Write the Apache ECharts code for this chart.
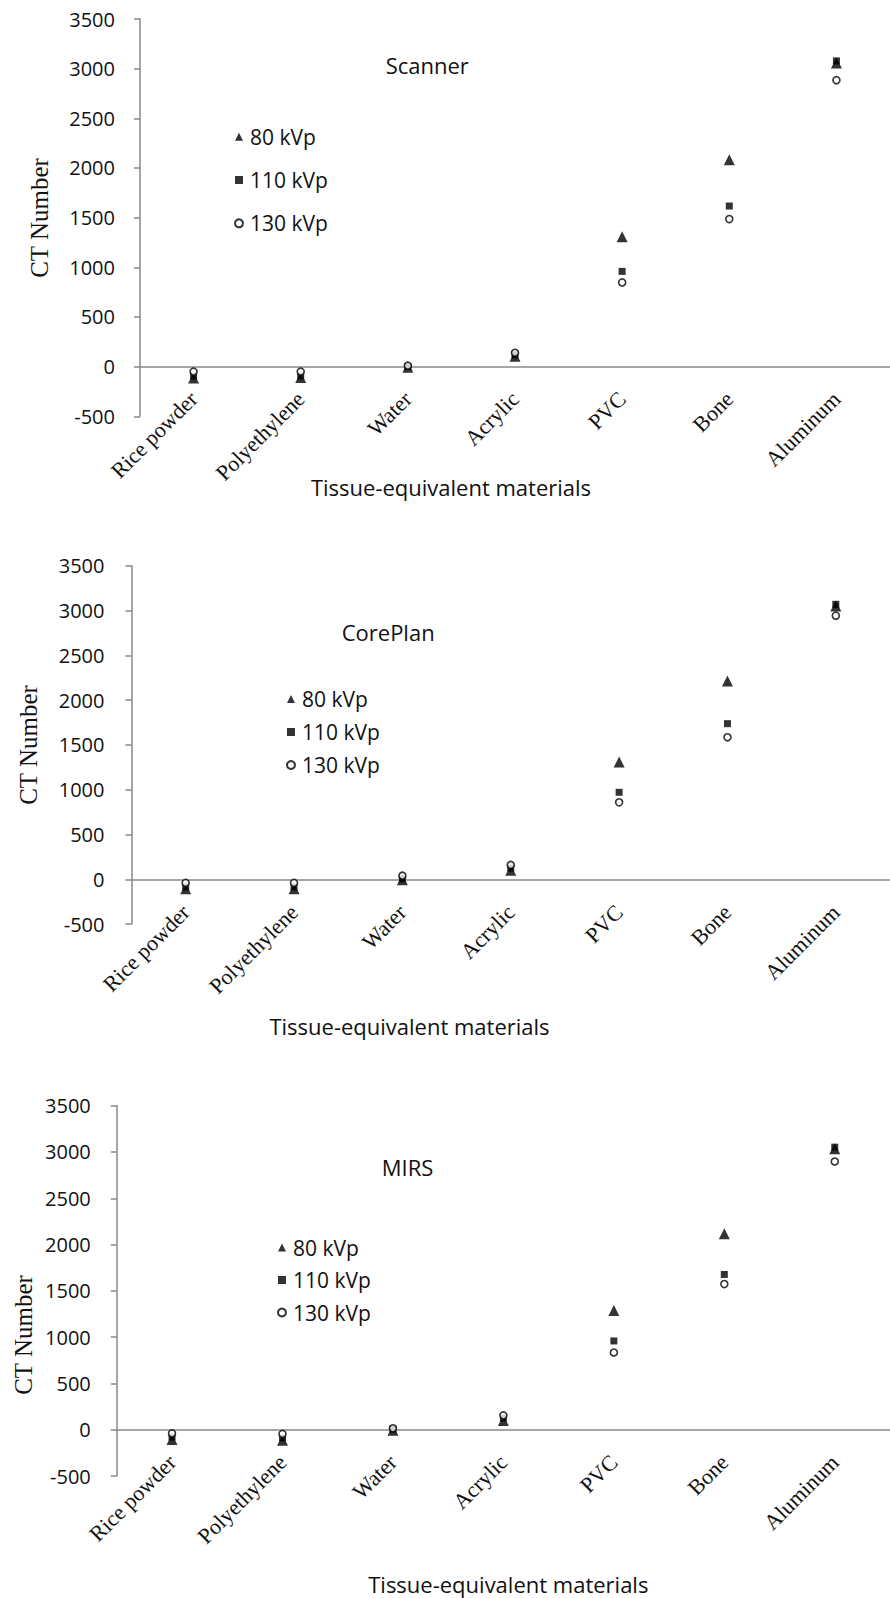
<!DOCTYPE html>
<html><head><meta charset="utf-8">
<script src="https://cdn.jsdelivr.net/npm/echarts@6/dist/echarts.min.js"></script>
<style>html,body{margin:0;padding:0;background:#fff}#c{width:890px;height:1598px}</style>
</head><body><div id="c"></div>
<script>
// ---- data ----
const categories = ['Rice powder', 'Polyethylene', 'Water', 'Acrylic', 'PVC', 'Bone', 'Aluminum'];
const seriesNames = ['80 kVp', '110 kVp', '130 kVp'];
const panelTitles = ['Scanner', 'CorePlan', 'MIRS'];
const xAxisName = 'Tissue-equivalent materials';
const yAxisName = 'CT Number';

const scanner80  = [-115, -110, -5, 105, 1308, 2083, 3058];
const scanner110 = [-95, -95, 0, 118, 959, 1617, 3078];
const scanner130 = [-50, -50, 10, 140, 848, 1486, 2884];

const corePlan80  = [-105, -105, -5, 100, 1309, 2213, 3050];
const corePlan110 = [-85, -85, 5, 125, 971, 1737, 3069];
const corePlan130 = [-40, -40, 40, 160, 859, 1585, 2942];

const mirs80  = [-105, -115, -5, 100, 1289, 2118, 3035];
const mirs110 = [-80, -90, 5, 125, 959, 1677, 3052];
const mirs130 = [-40, -45, 15, 155, 834, 1573, 2897];

const yMin = -500, yMax = 3500, yInterval = 500;

// ---- layout ----
const panelData = [
  [scanner80, scanner110, scanner130],
  [corePlan80, corePlan110, corePlan130],
  [mirs80, mirs110, mirs130]
];
const layout = [
  { grid: {left: 140, top: 19, width: 755, height: 397.3}, yLabelMargin: 25, xLabelMargin: -21,
    title: [385.7, 65], legend: {left: 234, top: 126.2, gap: 22.3}, yName: [39.5, 218], xName: [451, 487] },
  { grid: {left: 131.5, top: 565.7, width: 766, height: 358.4}, yLabelMargin: 27, xLabelMargin: -15.5,
    title: [341.7, 631.7], legend: {left: 286, top: 688.5, gap: 12}, yName: [28.5, 745], xName: [409.5, 1026] },
  { grid: {left: 116.8, top: 1105.7, width: 781, height: 370.3}, yLabelMargin: 26, xLabelMargin: -17.5,
    title: [381.7, 1167], legend: {left: 277, top: 1237, gap: 11.5}, yName: [23, 1335], xName: [508.3, 1584] }
];

const sans = 'Open Sans';
const serif = 'Liberation Serif';
const axisColor = '#898989';

const symbolStyles = [
  { symbol: 'triangle', symbolSize: 11, itemStyle: {color: '#000'} },
  { symbol: 'rect', symbolSize: 7, itemStyle: {color: '#000'} },
  { symbol: 'circle', symbolSize: 7, itemStyle: {color: '#fff', borderColor: '#000', borderWidth: 1.6} }
];

const grids = [], xAxes = [], yAxes = [], series = [], legends = [], graphics = [];
layout.forEach((L, p) => {
  grids.push(Object.assign({containLabel: false}, L.grid));
  xAxes.push({
    type: 'category', gridIndex: p, data: categories, boundaryGap: true,
    axisLine: {onZero: true, lineStyle: {color: axisColor, width: 1.5}},
    axisTick: {show: false},
    axisLabel: {interval: 0, rotate: 45, margin: L.xLabelMargin, color: '#111', fontFamily: serif, fontSize: 22}
  });
  yAxes.push({
    type: 'value', gridIndex: p, min: yMin, max: yMax, interval: yInterval,
    splitLine: {show: false},
    axisLine: {show: true, lineStyle: {color: axisColor, width: 1.5}},
    axisTick: {show: true, length: 6, lineStyle: {color: axisColor, width: 1.5}},
    axisLabel: {margin: L.yLabelMargin, color: '#111', fontFamily: sans, fontSize: 20,
      formatter: v => String(v)}
  });
  seriesNames.forEach((name, s) => {
    series.push(Object.assign({
      type: 'scatter', name: name, xAxisIndex: p, yAxisIndex: p,
      data: panelData[p][s], z: 2 + s
    }, symbolStyles[s]));
  });
  legends.push({
    orient: 'vertical', left: L.legend.left, top: L.legend.top, itemGap: L.legend.gap, padding: 0,
    itemWidth: 8, itemHeight: 8, selectedMode: false,
    textStyle: {fontFamily: sans, fontSize: 21, color: '#111', padding: [0, 0, 0, 2]},
    data: [
      {name: seriesNames[0], icon: 'triangle'},
      {name: seriesNames[1], icon: 'rect'},
      {name: seriesNames[2], icon: 'circle'}
    ]
  });
  graphics.push({type: 'text', x: L.title[0], y: L.title[1],
    style: {text: panelTitles[p], font: '22px "' + sans + '"', fill: '#111', align: 'left', verticalAlign: 'middle'}});
  graphics.push({type: 'text', x: L.xName[0], y: L.xName[1],
    style: {text: xAxisName, font: '22px "' + sans + '"', fill: '#111', align: 'center', verticalAlign: 'middle'}});
  graphics.push({type: 'text', x: L.yName[0], y: L.yName[1], rotation: Math.PI / 2,
    style: {text: yAxisName, font: '25px "' + serif + '"', fill: '#111', align: 'center', verticalAlign: 'middle'}});
});

const chart = echarts.init(document.getElementById('c'), null, {renderer: 'svg'});
chart.setOption({
  backgroundColor: '#fff',
  animation: false,
  grid: grids, xAxis: xAxes, yAxis: yAxes, series: series, legend: legends, graphic: graphics
});
</script></body></html>
